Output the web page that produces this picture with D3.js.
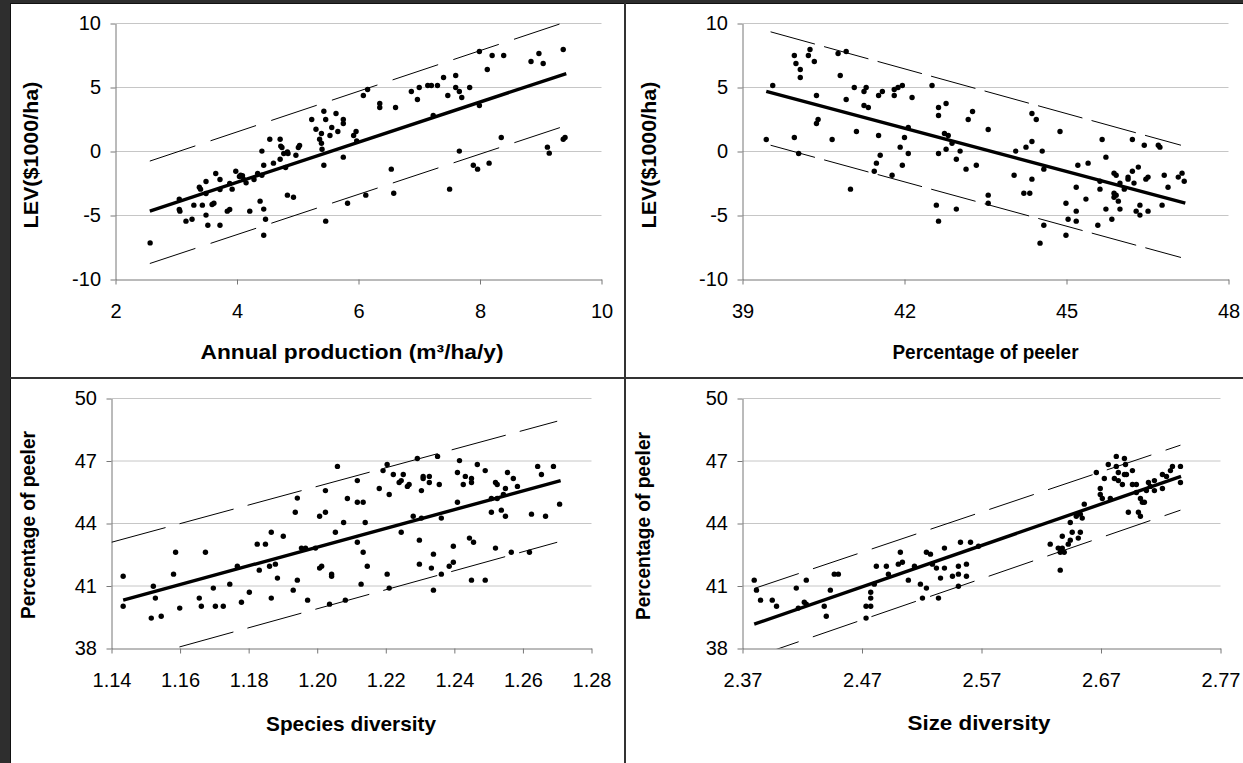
<!DOCTYPE html>
<html>
<head>
<meta charset="utf-8">
<script src="https://cdn.jsdelivr.net/npm/d3@7"></script>
<style>
  html, body { margin: 0; padding: 0; background: #fff; }
  svg { display: block; }
  text { font-family: "Liberation Sans", Arial, sans-serif; fill: #000; }
</style>
</head>
<body>
<svg id="chart" width="1243" height="763"></svg>
<script>
// ---- Panel A: LEV vs annual production ----
const annualProduction = [2.57,3.05,3.05,3.06,3.16,3.26,3.29,3.38,3.40,3.43,
  3.49,3.49,3.52,3.49,3.59,3.62,3.65,3.72,3.72,3.72,
  3.84,3.88,3.88,3.92,3.98,4.04,4.06,4.09,4.11,4.15,
  4.21,4.28,4.34,4.38,4.41,4.41,4.44,4.44,4.47,4.44,
  4.54,4.60,4.71,4.72,4.74,4.71,4.77,4.80,4.83,4.84,
  4.83,4.93,4.97,5.01,5.03,5.23,5.30,5.36,5.39,5.39,
  5.40,5.43,5.46,5.43,5.46,5.53,5.56,5.63,5.66,5.75,
  5.75,5.75,5.82,5.92,5.96,5.97,6.08,6.15,6.12,6.35,
  6.35,6.54,6.58,6.61,6.87,6.97,7.00,7.14,7.20,7.30,
  7.23,7.40,7.47,7.50,7.60,7.60,7.66,7.70,7.66,7.83,
  7.89,7.96,7.99,7.99,8.12,8.15,8.20,8.35,8.39,8.84,
  8.97,9.04,9.11,9.14,9.37,9.37,9.40];
const levByProduction = [-7.14,-3.72,-4.53,-4.66,-5.44,-5.29,-4.19,-2.79,-2.94,-4.19,
  -2.34,-4.97,-5.76,-3.28,-4.14,-4.04,-1.72,-2.19,-5.76,-2.97,
  -4.66,-4.53,-2.50,-2.94,-1.54,-1.95,-1.85,-1.90,-2.19,-2.45,
  -4.66,-2.19,-1.72,-3.88,-1.85,0.03,-1.07,-4.50,-5.29,-6.54,
  0.96,-0.91,0.96,0.42,0.31,-0.60,-0.16,-1.25,-0.03,-0.16,
  -3.41,-3.57,-0.29,0.31,0.47,2.50,1.74,0.96,1.41,0.65,
  0.18,3.15,2.50,-1.07,-5.44,1.25,1.87,2.97,1.56,2.50,
  2.19,-0.44,-4.04,1.25,1.56,0.83,4.38,4.84,-3.41,3.75,
  3.44,-1.38,-3.26,3.44,4.69,4.06,5.00,5.16,5.16,5.16,
  2.81,5.78,4.38,-2.94,5.94,5.00,4.69,4.22,0.03,5.00,
  -1.07,-1.38,7.81,3.59,6.41,-0.91,7.50,1.09,7.50,7.03,
  7.66,6.88,0.34,-0.13,7.97,0.96,1.09];
const fitProductionX = [2.565, 9.42];
const fitProductionY = [-4.66, 6.09];
const bandProductionX = [2.565, 9.40];
const upperProductionY = [-0.75, 10.1];
const lowerProductionY = [-8.75, 2.0];

// ---- Panel B: LEV vs percentage of peeler ----
const peelerPct = [39.44,39.56,39.96,39.99,40.07,40.07,39.96,40.04,40.22,40.25,
  40.33,40.37,40.37,40.40,40.66,40.77,40.81,40.92,40.92,41.00,
  41.07,41.11,41.25,41.29,41.25,41.33,41.44,41.48,41.52,41.59,
  41.52,41.55,41.77,41.81,41.81,41.88,41.96,41.92,41.96,42.00,
  42.07,42.07,42.14,42.51,42.59,42.63,42.63,42.63,42.77,42.63,
  42.74,42.81,42.77,42.88,42.96,43.03,42.96,43.14,43.18,43.26,
  43.33,43.55,43.55,43.55,44.03,44.06,44.21,44.25,44.32,44.36,
  44.36,44.36,44.44,44.51,44.55,44.58,44.58,44.88,44.99,44.99,
  45.03,45.18,45.18,45.18,45.21,45.36,45.40,45.58,45.62,45.62,
  45.66,45.73,45.73,45.84,45.88,45.92,45.88,45.88,45.92,45.96,
  45.99,45.99,46.07,46.14,46.14,46.22,46.22,46.25,46.29,46.33,
  46.36,46.36,46.44,46.47,46.51,46.51,46.70,46.73,46.77,46.81,
  46.88,47.07,47.14,47.18];
const levByPeeler = [0.94,5.16,7.50,6.88,6.41,5.78,1.09,-0.16,7.50,7.97,
  7.03,4.38,2.19,2.50,0.94,7.66,5.94,7.81,4.06,-2.94,
  5.00,1.56,4.69,5.00,3.59,3.44,-1.54,-0.91,4.38,4.69,
  1.25,-0.29,-1.85,4.38,4.84,5.00,5.16,0.34,-1.07,1.09,
  1.87,-0.16,4.22,5.16,-4.19,-5.44,3.44,2.81,3.75,-0.16,
  1.41,1.25,0.18,0.65,-0.60,0.03,-4.50,-1.38,2.50,3.13,
  -1.07,1.72,-3.41,-4.04,-1.85,0.03,-3.26,0.34,-3.26,2.97,
  0.78,-2.16,2.50,-7.16,0.03,-1.38,-5.76,1.56,-4.04,-6.54,
  -5.29,-2.79,-4.66,-5.44,-1.07,-3.72,-0.91,-5.76,-2.94,-2.32,
  0.94,-0.44,-4.50,-5.29,-1.69,-1.85,-3.26,-3.57,-3.41,-3.88,
  -4.50,-2.47,-2.94,-2.16,-2.00,-1.54,0.94,-2.47,-4.66,-1.22,
  -4.19,-4.97,0.49,-2.16,-2.00,-4.66,0.49,0.34,-4.19,-1.85,
  -2.79,-2.00,-1.69,-2.32];
const fitPeelerX = [39.44, 47.20];
const fitPeelerY = [4.69, -4.04];
const bandPeelerX = [39.52, 47.12];
const upperPeelerY = [9.35, 0.49];
const lowerPeelerY = [0.49, -8.28];

// ---- Panel C: percentage of peeler vs species diversity ----
const speciesDiversity = [1.1434,1.1434,1.1516,1.1522,1.1528,1.1545,1.1581,1.1587,1.1599,1.1656,
  1.1662,1.1674,1.1697,1.1703,1.1726,1.1745,1.1767,1.1779,1.1802,1.1825,
  1.1831,1.1849,1.1861,1.1866,1.1866,1.1878,1.1884,1.1901,1.1930,1.1936,
  1.1942,1.1942,1.1954,1.1966,1.1972,1.1995,1.2007,1.2013,1.2007,1.2024,
  1.2024,1.2042,1.2042,1.2036,1.2053,1.2059,1.2077,1.2082,1.2088,1.2117,
  1.2117,1.2117,1.2128,1.2134,1.2134,1.2140,1.2146,1.2181,1.2192,1.2204,
  1.2204,1.2210,1.2210,1.2222,1.2239,1.2245,1.2245,1.2251,1.2263,1.2268,
  1.2280,1.2292,1.2298,1.2298,1.2304,1.2304,1.2309,1.2309,1.2327,1.2327,
  1.2333,1.2339,1.2339,1.2351,1.2356,1.2362,1.2362,1.2385,1.2397,1.2397,
  1.2409,1.2409,1.2415,1.2426,1.2432,1.2444,1.2450,1.2450,1.2450,1.2456,
  1.2467,1.2490,1.2490,1.2508,1.2508,1.2520,1.2525,1.2520,1.2525,1.2537,
  1.2543,1.2549,1.2549,1.2555,1.2566,1.2572,1.2584,1.2619,1.2625,1.2643,
  1.2654,1.2666,1.2689,1.2707];
const peelerBySpecies = [41.47,40.03,39.46,40.99,40.42,39.55,41.57,42.62,39.94,40.42,
  40.03,42.62,40.90,40.03,40.03,41.09,41.95,40.22,40.70,43.01,
  41.76,43.01,41.95,40.42,43.58,42.05,41.38,43.39,40.80,44.54,
  45.22,41.28,42.82,42.82,40.32,42.82,44.35,41.95,41.86,45.58,
  44.54,41.57,41.47,40.13,43.58,46.74,44.05,40.32,45.20,46.06,
  43.10,45.02,41.09,45.02,42.62,44.05,41.95,45.68,46.54,46.83,
  41.57,45.39,40.90,46.35,45.97,46.06,43.58,46.35,45.78,45.87,
  44.35,47.12,43.20,42.05,45.58,44.26,46.16,46.26,46.26,45.97,
  41.86,42.53,40.80,47.22,45.87,44.26,41.57,41.95,42.14,42.91,
  46.45,45.02,47.02,45.87,46.26,43.30,46.16,45.97,41.28,43.10,
  46.83,46.54,41.28,45.20,44.54,45.97,45.87,42.82,45.20,44.64,
  45.39,45.68,44.35,46.45,42.62,46.16,45.78,42.62,44.45,46.74,
  46.35,44.35,46.74,44.93];
const fitSpeciesX = [1.1434, 1.2710];
const fitSpeciesY = [40.32, 46.06];
const bandSpeciesX = [1.14, 1.27];
const upperSpeciesY = [43.1, 48.91];
const lowerSpeciesY = [37.17, 43.1];

// ---- Panel D: percentage of peeler vs size diversity ----
const sizeDiversity = [2.3798,2.3817,2.3851,2.3949,2.3985,2.4150,2.4167,2.4217,2.4234,2.4234,
  2.4384,2.4401,2.4435,2.4468,2.4502,2.4734,2.4734,2.4773,2.4773,2.4773,
  2.4803,2.4820,2.4904,2.4921,2.5004,2.5021,2.5038,2.5088,2.5139,2.5189,
  2.5206,2.5239,2.5239,2.5273,2.5289,2.5323,2.5340,2.5357,2.5390,2.5390,
  2.5457,2.5507,2.5507,2.5507,2.5524,2.5574,2.5574,2.5608,2.5675,2.6275,
  2.6342,2.6359,2.6376,2.6359,2.6376,2.6392,2.6426,2.6443,2.6443,2.6459,
  2.6510,2.6527,2.6493,2.6527,2.6543,2.6560,2.6661,2.6694,2.6694,2.6711,
  2.6728,2.6761,2.6778,2.6812,2.6828,2.6828,2.6845,2.6845,2.6879,2.6896,
  2.6905,2.6896,2.6913,2.6929,2.6963,2.6963,2.6996,2.6996,2.7013,2.7030,
  2.7030,2.7063,2.7080,2.7097,2.7113,2.7147,2.7147,2.7214,2.7214,2.7248,
  2.7281,2.7298,2.7365,2.7365,2.7046];
const peelerBySize = [41.28,40.80,40.32,40.32,40.03,40.90,39.94,40.22,41.28,40.13,
  40.03,39.55,40.80,41.57,41.57,40.03,39.46,40.03,40.42,40.70,
  41.09,41.95,41.95,41.57,42.05,42.62,42.14,41.28,41.95,41.09,
  40.42,40.90,42.62,42.53,42.05,41.86,40.42,41.38,42.82,41.86,
  41.47,41.95,41.57,40.99,43.10,42.05,41.47,43.10,42.91,43.01,
  42.82,42.62,42.82,41.76,43.39,42.62,43.01,43.20,44.05,43.58,
  43.30,43.58,44.35,44.45,44.26,44.93,46.45,45.68,45.39,45.20,
  46.16,46.83,45.20,46.16,47.22,46.74,46.45,46.06,45.87,47.12,
  46.83,46.35,46.35,44.54,46.54,45.87,45.87,45.49,44.54,44.35,
  45.20,45.02,45.58,45.97,45.78,46.06,45.58,45.68,46.35,46.26,
  46.54,46.74,46.74,45.97,45.02];
const fitSizeX = [2.3798, 2.737];
const fitSizeY = [39.17, 46.26];
const bandSizeX = [2.3798, 2.7365];
const upperSizeY = [40.88, 47.76];
const lowerSizeY = [37.59, 44.64];

// ---- Tick values ----
const ticksProduction = [2, 4, 6, 8, 10];
const ticksLEV = [-10, -5, 0, 5, 10];
const ticksPeelerX = [39, 42, 45, 48];
const ticksPeelerY = [38, 41, 44, 47, 50];
const ticksSpecies = [1.14, 1.16, 1.18, 1.20, 1.22, 1.24, 1.26, 1.28];
const ticksSize = [2.37, 2.47, 2.57, 2.67, 2.77];

const svg = d3.select("#chart");

// window frame
svg.append("rect").attr("x", 0).attr("y", 0).attr("width", 1243).attr("height", 763).attr("fill", "#fff");
svg.append("rect").attr("x", 0).attr("y", 0).attr("width", 10).attr("height", 763).attr("fill", "#2e2e2e");
svg.append("rect").attr("x", 0).attr("y", 0).attr("width", 1243).attr("height", 3).attr("fill", "#2e2e2e");
svg.append("line").attr("x1", 10.5).attr("x2", 10.5).attr("y1", 3).attr("y2", 763).attr("stroke", "#111").attr("stroke-width", 1);
svg.append("line").attr("x1", 10).attr("x2", 1243).attr("y1", 3.5).attr("y2", 3.5).attr("stroke", "#111").attr("stroke-width", 1);
// panel dividers
svg.append("line").attr("x1", 625).attr("x2", 625).attr("y1", 3).attr("y2", 763).attr("stroke", "#333").attr("stroke-width", 2);
svg.append("line").attr("x1", 10).attr("x2", 1243).attr("y1", 378).attr("y2", 378).attr("stroke", "#333").attr("stroke-width", 2);

const AXIS_COLOR = "#777";
const GRID_COLOR = "#c6c6c6";

function drawPanel(p, idx) {
  const g = svg.append("g");
  const x = d3.scaleLinear().domain([p.xTicks[0], p.xTicks[p.xTicks.length - 1]]).range([p.left, p.right]);
  const y = d3.scaleLinear().domain([p.yTicks[0], p.yTicks[p.yTicks.length - 1]]).range([p.bottom, p.top]);

  // the bands may run a little above the top gridline, but not below the x axis
  const clipId = "clip" + idx;
  svg.append("clipPath").attr("id", clipId).append("rect")
    .attr("x", p.left).attr("y", p.top - 6).attr("width", p.right - p.left).attr("height", p.bottom - p.top + 6);

  // horizontal gridlines
  g.append("g").selectAll("line").data(p.yTicks.slice(1)).join("line")
    .attr("x1", p.left).attr("x2", p.right)
    .attr("y1", d => y(d)).attr("y2", d => y(d))
    .attr("stroke", GRID_COLOR).attr("stroke-width", 1);

  // axes
  const yAxis = g.append("g").attr("transform", `translate(${p.left},0)`)
    .call(d3.axisLeft(y).tickValues(p.yTicks).tickSize(5).tickSizeOuter(0).tickPadding(9.5).tickFormat(d => String(d)));
  const xAxis = g.append("g").attr("transform", `translate(0,${p.bottom})`)
    .call(d3.axisBottom(x).tickValues(p.xTicks).tickSize(5).tickSizeOuter(0).tickPadding(19.5).tickFormat(p.xFormat));
  [yAxis, xAxis].forEach(a => {
    a.select(".domain").attr("stroke", AXIS_COLOR).attr("stroke-width", 1);
    a.selectAll(".tick line").attr("stroke", AXIS_COLOR).attr("stroke-width", 1);
    a.selectAll(".tick text").attr("font-size", 20).attr("fill", "#000")
      .style("font-family", '"Liberation Sans", Arial, sans-serif');
  });

  // prediction band
  const line = d3.line().x(d => x(d[0])).y(d => y(d[1]));
  [p.upperY, p.lowerY].forEach(ys => {
    g.append("path")
      .datum(d3.zip(p.bandX, ys))
      .attr("clip-path", `url(#${clipId})`)
      .attr("d", line)
      .attr("fill", "none").attr("stroke", "#000").attr("stroke-width", 1)
      .attr("stroke-dasharray", p.dash);
  });

  // fitted line
  g.append("path")
    .datum(d3.zip(p.fitX, p.fitY))
    .attr("d", line)
    .attr("fill", "none").attr("stroke", "#000").attr("stroke-width", 3.4);

  // observations
  g.append("g").selectAll("circle").data(d3.zip(p.xs, p.ys)).join("circle")
    .attr("cx", d => x(d[0])).attr("cy", d => y(d[1])).attr("r", 2.7)
    .attr("fill", "#000");

  // axis titles
  g.append("text")
    .attr("x", p.xTitleX).attr("y", p.xTitleY)
    .attr("text-anchor", "middle").attr("font-size", 21).attr("font-weight", "bold")
    .attr("textLength", p.xTitleLen).attr("lengthAdjust", "spacingAndGlyphs")
    .text(p.xTitle);
  g.append("text")
    .attr("transform", `translate(${p.yTitleX},${p.yTitleY}) rotate(-90)`)
    .attr("text-anchor", "middle").attr("font-size", 21).attr("font-weight", "bold")
    .attr("textLength", p.yTitleLen).attr("lengthAdjust", "spacingAndGlyphs")
    .text(p.yTitle);
}

const panels = [
  { left: 115.5, right: 601.5, top: 23.5, bottom: 279.5,
    xTicks: ticksProduction, yTicks: ticksLEV, xFormat: d => String(d),
    xs: annualProduction, ys: levByProduction,
    fitX: fitProductionX, fitY: fitProductionY,
    bandX: bandProductionX, upperY: upperProductionY, lowerY: lowerProductionY,
    dash: "48 16",
    xTitle: "Annual production (m³/ha/y)", xTitleX: 352, xTitleY: 359, xTitleLen: 303,
    yTitle: "LEV($1000/ha)", yTitleX: 38, yTitleY: 155, yTitleLen: 147 },
  { left: 742.5, right: 1228.5, top: 23.5, bottom: 279.5,
    xTicks: ticksPeelerX, yTicks: ticksLEV, xFormat: d => String(d),
    xs: peelerPct, ys: levByPeeler,
    fitX: fitPeelerX, fitY: fitPeelerY,
    bandX: bandPeelerX, upperY: upperPeelerY, lowerY: lowerPeelerY,
    dash: "46 9.5",
    xTitle: "Percentage of peeler", xTitleX: 985.5, xTitleY: 359, xTitleLen: 186,
    yTitle: "LEV($1000/ha)", yTitleX: 656, yTitleY: 155, yTitleLen: 147 },
  { left: 111.5, right: 591.5, top: 398.5, bottom: 648.5,
    xTicks: ticksSpecies, yTicks: ticksPeelerY, xFormat: d => d.toFixed(2),
    xs: speciesDiversity, ys: peelerBySpecies,
    fitX: fitSpeciesX, fitY: fitSpeciesY,
    bandX: bandSpeciesX, upperY: upperSpeciesY, lowerY: lowerSpeciesY,
    dash: "56 14.5",
    xTitle: "Species diversity", xTitleX: 351, xTitleY: 731, xTitleLen: 170,
    yTitle: "Percentage of peeler", yTitleX: 35, yTitleY: 525, yTitleLen: 188 },
  { left: 742.5, right: 1220.5, top: 398.5, bottom: 648.5,
    xTicks: ticksSize, yTicks: ticksPeelerY, xFormat: d => d.toFixed(2),
    xs: sizeDiversity, ys: peelerBySize,
    fitX: fitSizeX, fitY: fitSizeY,
    bandX: bandSizeX, upperY: upperSizeY, lowerY: lowerSizeY,
    dash: "47 15",
    xTitle: "Size diversity", xTitleX: 979, xTitleY: 730, xTitleLen: 143,
    yTitle: "Percentage of peeler", yTitleX: 650, yTitleY: 526, yTitleLen: 188 }
];

panels.forEach(drawPanel);
</script>
</body>
</html>
